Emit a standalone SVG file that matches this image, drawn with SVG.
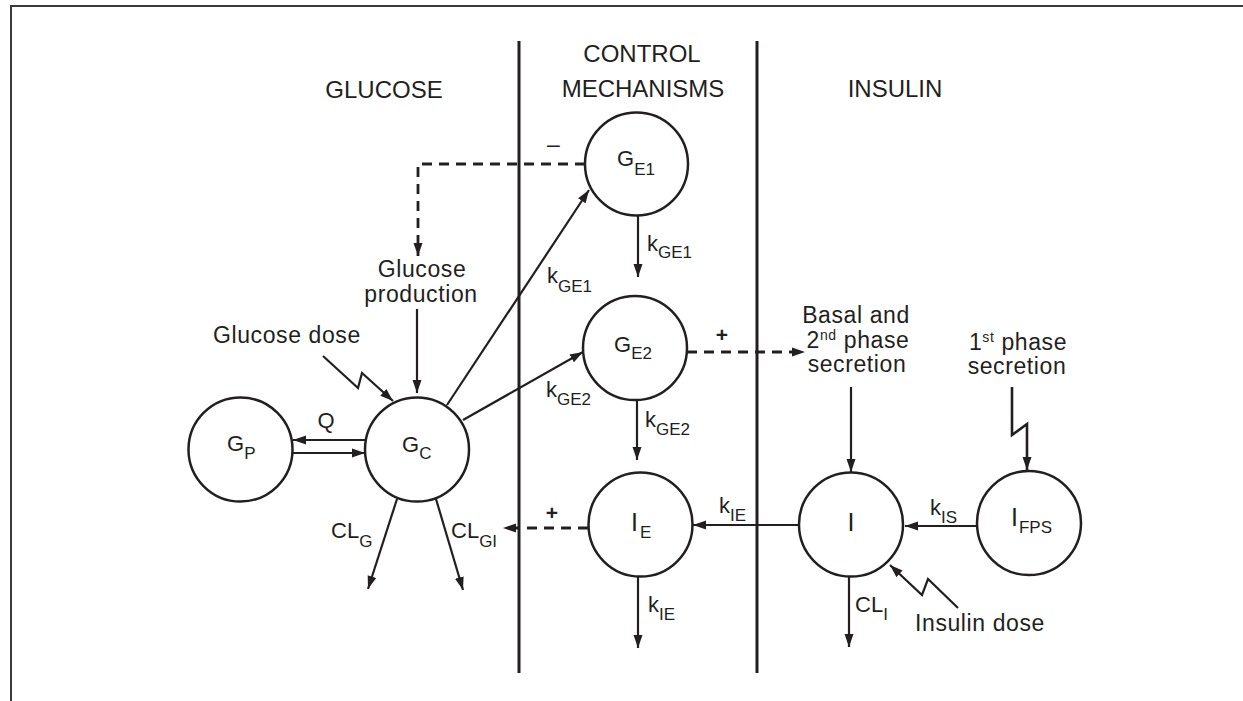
<svg xmlns="http://www.w3.org/2000/svg" width="1243" height="701" viewBox="0 0 1243 701">
<style>
.t{font-family:"Liberation Sans",Arial,Helvetica,sans-serif;fill:#231f20}
.title{font-size:24px}
.body{font-size:23px;letter-spacing:0.6px}
.lab{font-size:22px}
.labI{font-size:25px}
.sub{font-size:17px}
.sup{font-size:14px}
.node{fill:#fff;stroke:#231f20;stroke-width:2.5}
.ln{stroke:#231f20;stroke-width:2.2;fill:none}
.dash{stroke-dasharray:10 7;stroke-width:2.8}
.div{stroke:#231f20;stroke-width:3}
.frame{stroke:#3a3a3a;stroke-width:2;fill:none}
.sign{font-size:21px;font-weight:bold}
</style>
<defs>
<marker id="ah" markerUnits="userSpaceOnUse" markerWidth="14" markerHeight="10" refX="13" refY="5" orient="auto"><path d="M0,0.5 L13,5 L0,9.5 Z" fill="#231f20"/></marker>
</defs>
<rect x="0" y="0" width="1243" height="701" fill="#fff"/>
<polyline class="frame" points="11,701 11,6 1243,6"/>
<g id="dividers">
<line class="div" x1="519" y1="41" x2="519" y2="673"/>
<line class="div" x1="757" y1="41" x2="757" y2="673"/>
</g>
<g id="titles">
<text class="t title" x="384" y="98" text-anchor="middle">GLUCOSE</text>
<text class="t title" x="642" y="62" text-anchor="middle">CONTROL</text>
<text class="t title" x="643" y="97" text-anchor="middle">MECHANISMS</text>
<text class="t title" x="895" y="97" text-anchor="middle">INSULIN</text>
</g>
<g id="connectors">
<path class="ln dash" d="M585,164 H418 V256" marker-end="url(#ah)"/>
<line class="ln" x1="417" y1="309" x2="417" y2="393" marker-end="url(#ah)"/>
<path class="ln" d="M323,356 L358,388 L362,373 L393,401" marker-end="url(#ah)"/>
<line class="ln" x1="447" y1="405" x2="589" y2="190" marker-end="url(#ah)"/>
<line class="ln" x1="463" y1="420" x2="583" y2="352" marker-end="url(#ah)"/>
<line class="ln" x1="365" y1="440" x2="293" y2="440" marker-end="url(#ah)"/>
<line class="ln" x1="293" y1="453" x2="365" y2="453" marker-end="url(#ah)"/>
<line class="ln" x1="397" y1="499" x2="368" y2="589" marker-end="url(#ah)"/>
<line class="ln" x1="436" y1="499" x2="463" y2="590" marker-end="url(#ah)"/>
<line class="ln" x1="638" y1="215" x2="638" y2="277" marker-end="url(#ah)"/>
<line class="ln" x1="637" y1="400" x2="637" y2="460" marker-end="url(#ah)"/>
<path class="ln dash" d="M687,352 H805" marker-end="url(#ah)"/>
<line class="ln" x1="851" y1="387" x2="851" y2="472" marker-end="url(#ah)"/>
<path class="ln" style="stroke-width:2.6" d="M1012,387 V435 L1027,424 V470" marker-end="url(#ah)"/>
<line class="ln" x1="977" y1="526" x2="905" y2="526" marker-end="url(#ah)"/>
<path class="ln" d="M958,608 L928,579 L922,595 L890,565" marker-end="url(#ah)"/>
<line class="ln" x1="799" y1="525" x2="693" y2="525" marker-end="url(#ah)"/>
<path class="ln dash" d="M588,528 H503" marker-end="url(#ah)"/>
<line class="ln" x1="638" y1="576" x2="638" y2="648" marker-end="url(#ah)"/>
<line class="ln" x1="849" y1="576" x2="849" y2="647" marker-end="url(#ah)"/>
</g>
<g id="connector-labels">
<text class="t" style="font-size:23px" x="553.5" y="152" text-anchor="middle">–</text>
<text class="t sign" x="722" y="342" text-anchor="middle">+</text>
<text class="t sign" x="552" y="520" text-anchor="middle">+</text>
<text class="t lab" x="326" y="428" text-anchor="middle">Q</text>
<text class="t lab" x="547" y="283">k<tspan class="sub" dy="9">GE1</tspan></text>
<text class="t lab" x="546" y="397">k<tspan class="sub" dy="8">GE2</tspan></text>
<text class="t lab" x="647" y="251">k<tspan class="sub" dy="7">GE1</tspan></text>
<text class="t lab" x="645" y="427">k<tspan class="sub" dy="8">GE2</tspan></text>
<text class="t lab" x="719" y="513">k<tspan class="sub" dy="8">IE</tspan></text>
<text class="t lab" x="930" y="515">k<tspan class="sub" dy="8">IS</tspan></text>
<text class="t lab" x="648" y="612">k<tspan class="sub" dy="8">IE</tspan></text>
<text class="t lab" x="331" y="538">CL<tspan class="sub" dy="9">G</tspan></text>
<text class="t lab" x="451" y="538">CL<tspan class="sub" dy="9">GI</tspan></text>
<text class="t lab" x="855" y="612">CL<tspan class="sub" dy="8">I</tspan></text>
</g>
<g id="node-GP"><circle class="node" cx="240.5" cy="449.5" r="52"/><text class="t lab" x="227" y="451">G<tspan class="sub" dy="8">P</tspan></text></g>
<g id="node-GC"><circle class="node" cx="417" cy="449.5" r="52"/><text class="t lab" x="402" y="452">G<tspan class="sub" dy="7">C</tspan></text></g>
<g id="node-GE1"><circle class="node" cx="636.5" cy="164" r="51.5"/><text class="t lab" x="617" y="166">G<tspan class="sub" dy="9">E1</tspan></text></g>
<g id="node-GE2"><circle class="node" cx="635" cy="348" r="52"/><text class="t lab" x="614" y="352">G<tspan class="sub" dy="7">E2</tspan></text></g>
<g id="node-IE"><circle class="node" cx="640.5" cy="524.5" r="52"/><text class="t labI" x="631" y="531">I<tspan class="sub" dy="7" dx="2">E</tspan></text></g>
<g id="node-I"><circle class="node" cx="851" cy="524.5" r="52"/><text class="t labI" x="851" y="531" text-anchor="middle">I</text></g>
<g id="node-IFPS"><circle class="node" cx="1029" cy="523" r="52"/><text class="t labI" x="1011" y="526">I<tspan class="sub" dy="7" dx="1">FPS</tspan></text></g>
<g id="node-glucose-production"><text class="t body" x="422" y="277" text-anchor="middle">Glucose</text><text class="t body" x="421" y="302" text-anchor="middle">production</text></g>
<g id="node-glucose-dose"><text class="t body" x="213" y="343">Glucose dose</text></g>
<g id="node-basal-secretion"><text class="t body" x="856" y="323" text-anchor="middle">Basal and</text><text class="t body" x="858" y="348" text-anchor="middle">2<tspan class="sup" dy="-8">nd</tspan><tspan dy="8"> phase</tspan></text><text class="t body" x="857" y="372" text-anchor="middle">secretion</text></g>
<g id="node-first-phase"><text class="t body" x="1018" y="350" text-anchor="middle">1<tspan class="sup" dy="-8">st</tspan><tspan dy="8"> phase</tspan></text><text class="t body" x="1017" y="374" text-anchor="middle">secretion</text></g>
<g id="node-insulin-dose"><text class="t body" x="915" y="631">Insulin dose</text></g>
</svg>
